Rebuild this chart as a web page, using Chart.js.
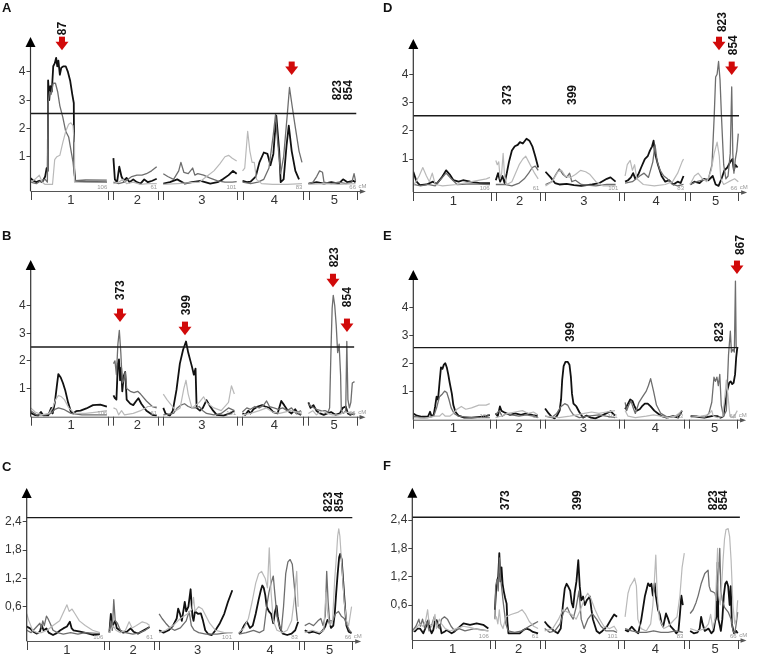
<!DOCTYPE html>
<html><head><meta charset="utf-8">
<script src="https://cdn.jsdelivr.net/npm/chart.js@4.4.0/dist/chart.umd.min.js"></script>
<style>
html,body{margin:0;padding:0;background:#fff;}
#wrap{position:relative;width:757px;height:657px;overflow:hidden;}
canvas{position:absolute;}
</style></head>
<body><div id="wrap"></div>
<script>
// ---------- shared categories ----------
const chrNames = ['1','2','3','4','5'];
const chrLengths = ['106','61','101','83','66'];
const chrStart = [0,113,181,289,379];
const chrEnd = [106,174,282,372,445];
const lodTicks = [1,2,3,4];
const lodTickLabels = ['1','2','3','4'];
const lodTicksCF = [0.6,1.2,1.8,2.4];
const lodTickLabelsCF = ['0,6','1,2','1,8','2,4'];

// ---------- panel A ----------
const A_black = [[0,0.24],[4,0.15],[8,0.1],[12,0.15],[16,0.1],[20,0.3],[22,0.6],[23.5,0.5],[24,3.7],[25.5,3.0],[27,3.5],[29,3.3],[31,4.2],[33,4.3],[35,4.5],[36.5,4.2],[38,4.4],[40,3.9],[42,4.15],[45,4.2],[48,4.2],[51,4.0],[54,3.7],[57,3.2],[59,2.9],[59.5,0.6],[61,0.15],[75,0.12],[104,0.1],
 [113,0.95],[115,0.2],[118,0.1],[121,0.65],[124,0.3],[127,0.15],[131,0.25],[135,0.1],[140,0.2],[145,0.1],[150,0.05],[155,0.2],[160,0.1],[166,0.15],[172,0.22],
 [181,0.05],[190,0.1],[200,0.2],[210,0.05],[220,0.1],[232,0.15],[245,0.05],[255,0.1],[262,0.2],[270,0.35],[276,0.5],[281,0.4],
 [289,0.15],[295,0.1],[300,0.12],[307,0.3],[312,0.8],[318,1.15],[323,1.1],[327,0.7],[331,1.1],[335,2.45],[339,1.2],[341,0.1],[345,0.2],[349,1.4],[352,2.1],[356,1.2],[361,0.5],[366,0.2],
 [379,0.05],[390,0.1],[400,0.05],[410,0.1],[420,0.05],[426,0.2],[432,0.1],[440,0.15],[443,0.1]];
const A_dark = [[0,0.1],[8,0.05],[14,0.15],[20,0.2],[23,0.1],[24,2.9],[26,3.3],[28,3.2],[31,3.6],[34,3.6],[37,3.3],[40,2.8],[44,2.4],[48,1.9],[52,1.7],[56,1.1],[58,0.8],[60,0.3],[61,0.15],[75,0.18],[104,0.17],
 [113,0.1],[120,0.05],[128,0.1],[133,0.2],[138,0.3],[145,0.35],[152,0.35],[158,0.4],[165,0.5],[172,0.65],
 [181,0.4],[187,0.3],[195,0.2],[202,0.5],[205,0.8],[209,0.45],[215,0.4],[221,0.6],[224,0.35],[228,0.4],[236,0.35],[244,0.25],[255,0.15],[265,0.1],[275,0.1],[281,0.12],
 [289,0.1],[300,0.05],[310,0.1],[318,0.2],[325,0.6],[331,1.8],[334,2.5],[337,1.5],[341,0.4],[345,1.0],[350,2.5],[353,3.45],[356,2.9],[360,2.2],[366,1.2],[370,0.8],
 [379,0.05],[385,0.1],[390,0.3],[394,0.5],[398,0.45],[400,0.1],[410,0.05],[420,0.1],[430,0.05],[438,0.1],[441,0.4],[443,0.15]];
const A_light = [[0,0.1],[6,0.2],[12,0.35],[16,0.1],[20,0.02],[30,0.02],[33,0.9],[36,1.0],[40,1.05],[44,1.5],[48,1.9],[52,2.15],[55,2.2],[58,2.1],[59.5,1.5],[60,0.1],[70,0.1],[104,0.1],
 [113,0.05],[120,0.1],[126,0.2],[131,0.05],[140,0.1],[150,0.02],[160,0.05],[172,0.05],
 [181,0.02],[200,0.05],[230,0.1],[240,0.3],[250,0.5],[258,0.75],[265,1.0],[270,1.05],[275,0.95],[281,0.85],
 [289,0.5],[292,0.6],[296,1.9],[299,1.2],[302,0.8],[305,0.8],[308,0.2],[315,0.05],[330,0.02],[350,0.02],[370,0.05],
 [379,0.02],[400,0.05],[420,0.02],[443,0.05]];
const A_arrows = [[42.9,4.77],[356,3.89]];
const A_labels = [['87',42.9,5.3],['823',417.7,3.0],['854',432.7,3.0]];

// ---------- panel B ----------
const B_black = [[0,0.12],[5,0.05],[10,0.02],[14,0.15],[17,0.03],[24,0.03],[28,0.3],[30,0.1],[33,0.5],[35.5,1.05],[37.7,1.52],[41,1.4],[44,1.2],[47,0.95],[51,0.5],[55,0.15],[58,0.1],[62,0.18],[68,0.2],[76,0.28],[85,0.4],[95,0.42],[104,0.35],
 [113,0.75],[115,0.65],[117,0.6],[119,1.9],[120.5,2.05],[122,1.3],[123.5,1.75],[125,0.9],[127,1.45],[129,1.6],[131,0.6],[136,0.45],[140,0.4],[144,0.55],[147,0.65],[151,0.45],[158,0.2],[166,0.05],[172,0.02],
 [181,0.3],[184,0.1],[190,0.02],[194,0.2],[199,0.95],[203.6,1.9],[208,2.4],[212,2.7],[215,2.3],[218,2.0],[220,1.8],[222.7,1.5],[225,1.72],[226.5,0.3],[231,0.2],[235,0.3],[240,0.58],[244,0.4],[249,0.2],[254,0.05],[263,0.02],[272,0.1],[278,0.2],
 [289,0.1],[293,0.05],[297,0.2],[300,0.1],[304,0.25],[310,0.35],[316,0.4],[320,0.35],[326,0.3],[331,0.15],[337,0.1],[342,0.55],[346,0.4],[351,0.2],[356,0.1],[361,0.25],[365,0.1],[369,0.05],
 [379,0.5],[382,0.3],[386,0.4],[390,0.2],[395,0.1],[400,0.05],[405,0.1],[410,0.15],[416,0.05],[422,0.1],[426,0.3],[430,0.35],[433,0.1],[436,0.05],[440,0.1],[442,0.05]];
const B_dark = [[0,0.2],[8,0.05],[20,0.05],[28,0.1],[33,0.25],[38,0.3],[45,0.25],[55,0.1],[70,0.05],[90,0.05],[104,0.05],
 [113,1.9],[115,2.0],[117,1.5],[119,2.6],[121,3.1],[123,2.3],[125,1.2],[127,1.3],[129,1.6],[131,1.0],[136,0.9],[141,0.85],[146,0.9],[150,0.8],[158,0.55],[166,0.35],[172,0.3],
 [181,0.05],[195,0.1],[200,0.3],[205,0.4],[210,0.45],[215,0.35],[220,0.3],[225,0.3],[230,0.35],[235,0.2],[240,0.1],[250,0.05],[260,0.1],[270,0.3],[278,0.2],
 [289,0.15],[295,0.3],[300,0.25],[306,0.35],[312,0.3],[318,0.4],[322,0.55],[326,0.35],[332,0.3],[338,0.25],[344,0.3],[350,0.2],[356,0.3],[362,0.1],[369,0.2],
 [379,0.45],[383,0.35],[390,0.25],[396,0.2],[402,0.2],[406,0.15],[408,0.3],[410,2.5],[411.5,3.9],[413,4.37],[415,4.0],[417,3.3],[419,2.3],[421,2.6],[423,1.5],[424,0.2],[427,0.1],[430,0.2],[431.5,2.7],[433,0.6],[435,0.3],[437,0.5],[439,1.2],[442,1.25]];
const B_light = [[0,0.3],[6,0.15],[15,0.05],[25,0.1],[30,0.3],[34,0.6],[38,0.75],[42,0.7],[46,0.6],[52,0.3],[60,0.1],[75,0.1],[90,0.15],[104,0.2],
 [113,0.3],[117,0.25],[120,0.05],[124,0.2],[128,0.05],[140,0.1],[150,0.2],[160,0.35],[172,0.35],
 [181,0.8],[186,0.6],[192,0.4],[198,0.2],[204,0.3],[209,1.0],[212,1.3],[215,0.8],[220,0.3],[230,0.5],[236,0.7],[240,0.5],[250,0.3],[260,0.2],[270,0.5],[274,1.1],[278,0.8],
 [289,0.05],[300,0.1],[312,0.2],[322,0.3],[330,0.15],[340,0.1],[355,0.2],[369,0.1],
 [379,0.1],[385,0.2],[390,0.05],[398,0.2],[405,0.1],[412,0.05],[420,0.05],[430,0.15],[440,0.1],[442,0.05]];
const B_arrows = [[121.9,3.40],[210.6,2.93],[412.6,4.66],[431.7,3.04]];
const B_labels = [['373',121.9,4.19],['399',212,3.65],['823',414,5.38],['854',431.7,3.94]];

// ---------- panel C ----------
const C_black = [[0,0.18],[4.6,0.14],[9,0.07],[14,0.03],[18,0.07],[20.5,0.21],[23,0.1],[27,0.14],[30,0.05],[36,0.0],[41,0.04],[46,0.1],[50,0.14],[55,0.18],[59,0.28],[61.5,0.14],[64,0.1],[73,0.07],[82,0.04],[91,0.0],[100,0.02],
 [113,0.05],[115,0.45],[117,0.15],[119,0.25],[121,0.3],[123,0.15],[127,0.1],[132,0.05],[137,0.07],[142,0.14],[146,0.07],[152,0.03],[160,0.1],[168,0.17],
 [181,0.1],[187,0.05],[194,0.1],[200,0.2],[205,0.35],[207,0.56],[209.5,0.45],[212,0.3],[216,0.7],[218,0.5],[221,0.6],[224,0.97],[226.5,0.4],[228,0.3],[230,0.5],[234,0.45],[238,0.46],[241,0.3],[244,0.1],[248,0.02],[253,0.0],[258,0.1],[264,0.25],[270,0.45],[275,0.7],[281,0.95],
 [290,0.03],[293,0.07],[297,0.2],[301,0.28],[305,0.15],[309,0.2],[313,0.45],[317,0.75],[320,0.95],[322,1.05],[324,1.0],[326,0.85],[328,0.6],[331,0.5],[334,0.45],[337,0.25],[339.5,0.5],[341.5,0.62],[343,0.4],[346,0.15],[350,0.03],[356,0.0],[362,0.03],[367,0.1],[371,0.28],
 [380,0.1],[386,0.05],[392,0.07],[400,0.03],[405,0.1],[408,0.18],[411,0.32],[413,0.3],[416,0.15],[419,0.2],[421,0.45],[423,0.9],[425,1.3],[427,1.65],[428.5,1.72],[430.5,1.6],[432.5,1.15],[435,0.6],[437,0.2],[440,0.07],[444,0.04]];
const C_dark = [[0,0.1],[6,0.05],[12,0.15],[18,0.25],[20,0.15],[22,0.3],[24,0.2],[27,0.4],[29,0.35],[32,0.25],[36,0.1],[42,0.05],[50,0.02],[60,0.05],[70,0.02],[80,0.05],[100,0.03],
 [113,0.1],[115,0.3],[117,0.1],[119,0.75],[121,0.3],[124,0.25],[128,0.1],[135,0.05],[145,0.02],[155,0.05],[162,0.1],[168,0.17],
 [181,0.45],[185,0.35],[190,0.25],[196,0.15],[202,0.1],[210,0.15],[218,0.3],[222,0.5],[225,0.2],[229,0.1],[235,0.05],[245,0.02],[260,0.02],[275,0.05],[281,0.05],
 [290,0.02],[300,0.05],[310,0.1],[318,0.05],[324,0.1],[328,0.6],[331,0.9],[334,1.1],[337,1.25],[339,0.9],[342,0.4],[345,0.2],[348,0.1],[351,0.6],[354,1.3],[357,1.55],[360,1.6],[363,1.5],[366,1.0],[368,0.6],[370,0.3],
 [380,0.2],[386,0.25],[392,0.2],[398,0.3],[402,0.35],[405,0.2],[408,0.4],[410,1.35],[412,0.7],[414,0.3],[418,0.3],[422,0.45],[426,0.5],[430,0.4],[434,0.35],[438,0.2],[441,0.1],[444,0.05]];
const C_light = [[0,0.45],[3,0.3],[8,0.1],[14,0.05],[20,0.05],[28,0.1],[36,0.2],[45,0.3],[55,0.64],[58,0.5],[62,0.55],[66,0.45],[72,0.3],[80,0.2],[90,0.1],[100,0.05],
 [113,0.05],[118,0.2],[122,0.1],[128,0.05],[135,0.1],[140,0.28],[144,0.15],[150,0.2],[158,0.28],[164,0.25],[168,0.2],
 [181,0.05],[190,0.1],[200,0.2],[210,0.35],[220,0.45],[226,0.55],[228,0.8],[230,0.5],[235,0.6],[240,0.55],[245,0.4],[250,0.25],[258,0.1],[270,0.05],[281,0.05],
 [290,0.05],[297,0.15],[303,0.35],[308,0.7],[313,1.1],[317,1.3],[321,1.35],[326,1.2],[329,1.0],[331.5,1.85],[334,0.9],[337,0.3],[342,0.1],[350,0.05],[356,0.1],[362,0.3],[366,0.8],[369,1.35],[371,0.6],
 [380,0.05],[390,0.1],[400,0.05],[406,0.1],[409,0.9],[411,0.5],[414,0.2],[418,0.3],[421,1.2],[423,1.6],[425,2.1],[426.5,2.25],[428,2.1],[431,1.4],[434,0.7],[437,0.3],[440,0.2],[442,0.4],[444,0.6]];
const C_arrows = [];
const C_labels = [['823',411.8,2.61],['854',426.8,2.61]];

// ---------- panel D ----------
const D_black = [[0,0.55],[4.5,0.2],[9,0.08],[18,0.1],[27,0.2],[32,0.12],[39,0.35],[45,0.6],[50,0.45],[55,0.25],[62,0.2],[68,0.25],[78,0.2],[91,0.15],[105,0.15],
 [113,0.25],[116,0.5],[119,0.2],[122,0.4],[125,0.15],[128,0.5],[131,0.9],[135,1.3],[139,1.45],[143,1.5],[146,1.6],[150,1.55],[155,1.72],[159,1.65],[163,1.45],[167,1.1],[171,0.7],
 [181,0.55],[188,0.35],[194,0.15],[200,0.1],[210,0.12],[220,0.08],[230,0.05],[245,0.1],[255,0.15],[265,0.3],[270,0.35],[277,0.2],
 [290,0.2],[294,0.25],[298,0.35],[301,0.5],[304,0.3],[308,0.45],[312,0.7],[317,1.0],[321,1.1],[324,1.3],[327,1.45],[329,1.65],[331,1.2],[335,0.8],[340,0.4],[345,0.2],[350,0.25],[356,0.1],[362,0.2],[366,0.15],[370,0.4],
 [379,0.1],[385,0.2],[392,0.15],[398,0.3],[404,0.25],[410,0.4],[414,0.1],[418,0.05],[422,0.3],[426,0.6],[430,0.7],[434,0.9],[437,1.0],[439,0.6],[441,0.8],[444,0.7]];
const D_dark = [[0,0.1],[10,0.05],[20,0.1],[30,0.05],[38,0.3],[45,0.5],[52,0.3],[60,0.1],[80,0.12],[105,0.1],
 [113,0.1],[125,0.1],[135,0.05],[145,0.15],[152,0.3],[158,0.5],[163,0.7],[167,0.75],[171,0.6],
 [181,0.1],[190,0.2],[195,0.45],[200,0.65],[205,0.45],[210,0.35],[214,0.5],[217,0.2],[222,0.25],[230,0.1],[250,0.05],[265,0.1],[277,0.1],
 [290,0.15],[300,0.2],[310,0.4],[316,0.5],[322,0.35],[328,0.9],[331,1.5],[334,0.9],[338,0.6],[343,0.4],[348,0.3],[355,0.1],[362,0.05],[370,0.1],
 [379,0.1],[388,0.2],[396,0.25],[404,0.3],[409,0.8],[412,2.5],[414,3.9],[416,4.0],[418,4.45],[420,3.8],[422,2.5],[425,0.8],[428,0.3],[431,0.4],[434,1.2],[436,3.55],[437.5,1.2],[439,0.5],[441,1.0],[443,1.3],[445,1.9]];
const D_light = [[0,0.05],[8,0.4],[13,0.7],[18,0.4],[22,0.2],[26,0.5],[30,0.1],[40,0.05],[60,0.1],[80,0.2],[100,0.3],[105,0.35],
 [113,0.95],[115,0.8],[117,0.9],[119,0.3],[121,0.5],[123,1.2],[125,0.4],[128,0.1],[135,0.2],[140,0.5],[145,0.8],[150,1.0],[154,1.1],[158,0.9],[162,0.7],[166,0.5],[171,0.3],
 [181,0.05],[190,0.2],[198,0.55],[203,0.6],[208,0.4],[215,0.35],[222,0.45],[229,0.6],[236,0.55],[242,0.45],[250,0.2],[260,0.05],[277,0.05],
 [290,0.4],[293,0.8],[297,0.95],[300,0.6],[303,0.8],[306,0.3],[315,0.1],[330,0.05],[345,0.1],[355,0.2],[362,0.5],[368,0.9],[370,1.0],
 [379,0.1],[385,0.4],[390,0.5],[396,0.3],[402,0.2],[408,0.6],[412,1.2],[416,1.6],[419,1.1],[421,0.3],[425,0.1],[432,0.2],[440,0.3],[445,0.2]];
const D_arrows = [[418.6,4.85],[436,3.97]];
const D_labels = [['823',422.7,5.49],['854',437.8,4.67],['373',128.3,2.91],['399',216.9,2.91]];

// ---------- panel E ----------
const E_black = [[0,0.2],[5,0.12],[12,0.08],[20,0.08],[23,0.26],[25,0.1],[28,0.15],[30,0.45],[32,0.8],[34,0.7],[36,1.3],[38,1.85],[40,1.8],[42,1.95],[44,2.0],[46,1.85],[48,1.6],[50,1.3],[53,0.9],[55,0.5],[58,0.25],[62,0.12],[70,0.05],[80,0.05],[92,0.08],[100,0.1],[105,0.15],
 [113,0.2],[116,0.1],[119,0.45],[121,0.3],[124,0.25],[128,0.2],[133,0.15],[140,0.2],[148,0.15],[155,0.2],[163,0.15],[171,0.1],
 [181,0.38],[186,0.2],[190,0.08],[194,0.02],[197,0.1],[201,0.3],[203,0.7],[204.5,1.4],[206.5,1.9],[209,2.05],[212,2.05],[214.5,1.95],[216.5,1.5],[218,0.9],[220,0.55],[224,0.45],[228,0.25],[233,0.05],[238,0.12],[244,0.05],[250,0.02],[257,0.1],[265,0.2],[271,0.28],[277,0.12],
 [291,0.35],[295,0.55],[298,0.7],[301,0.65],[304,0.45],[307,0.3],[311,0.35],[314,0.45],[318,0.55],[322,0.55],[326,0.45],[331,0.3],[336,0.2],[341,0.1],[348,0.05],[357,0.1],[364,0.05],[369,0.3],
 [381,0.1],[390,0.08],[400,0.05],[410,0.1],[418,0.1],[422,0.05],[426,0.1],[428,0.5],[431,1.0],[434,1.3],[436,1.35],[438,1.25],[440,1.3],[442,1.6],[443.5,2.2],[445,2.55]];
const E_dark = [[0,0.1],[10,0.05],[20,0.05],[28,0.1],[32,0.4],[36,0.8],[40,0.9],[43,1.0],[46,0.95],[49,0.7],[52,0.4],[56,0.2],[62,0.1],[80,0.05],[105,0.05],
 [113,0.15],[118,0.3],[122,0.1],[128,0.2],[135,0.15],[145,0.1],[155,0.15],[165,0.1],[171,0.05],
 [181,0.1],[190,0.05],[197,0.2],[203,0.45],[208,0.55],[212,0.5],[216,0.3],[220,0.15],[228,0.05],[240,0.1],[255,0.15],[265,0.1],[277,0.05],
 [291,0.6],[293,0.3],[296,0.5],[299,0.65],[302,0.4],[305,0.2],[310,0.6],[315,0.8],[320,1.0],[323,1.2],[326,1.45],[330,1.0],[334,0.5],[340,0.2],[350,0.05],[360,0.1],[369,0.2],
 [381,0.1],[390,0.1],[400,0.05],[406,0.2],[410,0.6],[413,1.5],[415,1.35],[417,1.5],[419,1.2],[421,1.6],[423,0.5],[426,0.1],[430,0.3],[433,2.3],[435.5,3.15],[437,2.4],[439,2.5],[441,2.4],[442.5,4.95],[443.5,2.6],[445,2.55]];
const E_light = [[0,0.05],[15,0.02],[30,0.1],[36,0.1],[40,0.2],[44,0.1],[50,0.1],[55,0.2],[60,0.35],[66,0.45],[72,0.35],[80,0.4],[90,0.5],[100,0.5],[105,0.55],
 [113,0.05],[120,0.1],[130,0.2],[140,0.25],[150,0.3],[158,0.2],[165,0.25],[171,0.15],
 [181,0.1],[200,0.05],[215,0.1],[225,0.15],[235,0.2],[245,0.25],[255,0.2],[265,0.25],[277,0.3],
 [291,0.3],[295,0.1],[305,0.05],[320,0.1],[330,0.15],[340,0.1],[350,0.05],[360,0.1],[369,0.3],
 [381,0.05],[395,0.1],[405,0.15],[410,0.3],[412,0.1],[418,0.05],[425,0.1],[428,0.8],[430,1.4],[432,0.9],[435,0.1],[440,0.05],[445,0.3]];
const E_arrows = [[444.6,5.2]];
const E_labels = [['867',448.8,5.88],['399',215,2.76],['823',420,2.76]];

// ---------- panel F ----------
const F_black = [[0,0.07],[3.6,0.04],[7,0.1],[10.5,0.1],[15,0.0],[19,0.15],[22,0.28],[24,0.1],[26.4,0.0],[28.7,0.07],[31,0.25],[33.3,0.28],[35.5,0.14],[37.8,0.18],[40,0.0],[44.6,0.04],[47,0.07],[53.8,0.0],[58,0.04],[65,0.14],[70,0.21],[79,0.18],[88,0.21],[97,0.18],[104,0.1],
 [113,0.5],[114.5,0.9],[116,1.1],[117.5,1.2],[119,1.7],[120.5,1.1],[122,1.4],[123.5,1.05],[125,0.9],[127,0.75],[129,0.63],[130,0.25],[131.5,0.0],[140,0.0],[147,0.0],[152,0.07],[156,0.1],[160,0.08],[165,0.03],[172,0.0],
 [181,0.25],[185,0.17],[190,0.1],[195,0.04],[199,0.0],[203,0.1],[206,0.6],[208.5,0.95],[211,1.05],[213,1.0],[216,0.9],[218,0.65],[220,0.55],[222,0.85],[224.5,1.1],[227,1.55],[229,1.0],[231,0.7],[233.5,0.78],[236,0.6],[238.5,0.7],[242.8,0.78],[245,0.5],[247,0.3],[252,0.05],[256,0.0],[260,0.05],[266,0.14],[272,0.3],[276,0.4],[280,0.35],
 [291,0.07],[295,0.04],[300,0.14],[305,0.05],[309,0.0],[313,0.28],[318,0.78],[322.5,1.06],[325,1.0],[327,1.05],[329,0.8],[331.5,1.06],[333,0.8],[336,0.5],[338.5,0.4],[341,0.2],[343,0.14],[347,0.42],[350,0.3],[353,0.15],[358,0.07],[361,0.0],[364,0.05],[366,0.4],[368,0.8],[370,0.6],
 [380,0.05],[385,0.0],[390,0.02],[393,0.1],[395,0.35],[397,0.2],[400,0.05],[405,0.1],[409,0.0],[412,0.05],[414,0.25],[416,0.35],[417.5,1.5],[418.5,0.3],[420,0.2],[422,0.05],[424,0.3],[426,0.8],[428,1.05],[430,1.1],[432,1.0],[434,0.6],[435.5,1.0],[437,0.2],[440,0.0],[443,0.05],[445,0.0]];
const F_dark = [[0,0.05],[5,0.15],[9,0.3],[11,0.15],[14,0.3],[17,0.1],[20,0.25],[23,0.05],[27,0.2],[30,0.35],[33,0.2],[37,0.1],[40,0.3],[44,0.35],[48,0.3],[53,0.15],[58,0.05],[64,0.1],[72,0.05],[85,0.1],[104,0.05],
 [113,0.3],[114,1.0],[116,1.15],[117.5,0.9],[119,1.6],[120.5,1.2],[122,1.0],[124,0.7],[126,0.45],[128,0.2],[131,0.05],[140,0.02],[150,0.05],[160,0.15],[166,0.2],[172,0.25],
 [181,0.1],[188,0.02],[195,0.05],[202,0.2],[207,0.45],[212,0.55],[216,0.4],[220,0.3],[224,0.55],[228,0.9],[231,0.3],[235,0.1],[240,0.3],[246,0.42],[252,0.3],[258,0.15],[265,0.05],[275,0.05],[280,0.02],
 [291,0.1],[300,0.05],[310,0.02],[320,0.02],[330,0.05],[340,0.02],[350,0.02],[360,0.05],[370,0.02],
 [380,0.42],[384,0.5],[388,0.65],[391,0.8],[395,1.05],[400,1.27],[404.5,1.34],[406,1.0],[408,0.9],[411,0.88],[414,0.85],[416,0.7],[417.5,1.0],[419,1.3],[420.5,1.8],[422,0.9],[424,0.7],[427,0.55],[432,0.45],[436,0.3],[438.5,0.05],[441,0.0],[443,0.2],[445,0.45]];
const F_light = [[0,0.03],[5,0.1],[10,0.2],[14,0.15],[18,0.25],[21,0.5],[23,0.2],[27,0.15],[31,0.4],[33,0.1],[37,0.3],[40,0.2],[45,0.1],[52,0.05],[60,0.1],[70,0.15],[80,0.12],[90,0.08],[104,0.05],
 [113,0.3],[115,0.35],[117,0.2],[119,0.5],[121,0.2],[124,0.1],[128,0.35],[135,0.4],[145,0.45],[150,0.5],[155,0.4],[160,0.25],[166,0.15],[172,0.1],
 [181,0.05],[192,0.1],[200,0.3],[206,0.5],[212,0.45],[218,0.4],[224,0.3],[230,0.5],[236,0.75],[240,0.85],[244,0.75],[250,0.5],[256,0.3],[262,0.15],[270,0.1],[276,0.15],[280,0.05],
 [291,0.35],[293,0.6],[295,0.85],[298,1.0],[300,1.05],[302,1.1],[304,1.17],[306.5,1.0],[308.5,0.3],[313,0.1],[320,0.05],[326,0.2],[329,0.6],[331,1.1],[333,1.66],[335,0.8],[338,0.3],[344,0.1],[350,0.15],[356,0.25],[362,0.35],[366,0.8],[369,1.4],[372,1.7],
 [380,0.1],[390,0.05],[400,0.1],[405,0.2],[408,0.4],[411,0.1],[414,0.3],[416,1.2],[417.5,1.8],[419,0.8],[421,0.6],[423,1.0],[425,1.55],[427,2.0],[429,2.2],[432,2.22],[434,2.05],[436,1.55],[438.5,0.6],[441,0.2],[443,0.3],[445,0.7]];
const F_arrows = [];
const F_labels = [['373',126.8,2.61],['399',225.2,2.61],['823',411.2,2.61],['854',424.9,2.61]];

// thresholds
const thresholds = {A:2.53, B:2.5, C:2.49, D:2.53, E:2.56, F:2.46};

// ---------- layout (pixels) ----------
const layoutCfg = {
 A:{ox:0,oy:0,w:378,h:220,left:30.5,pxu:0.7337,zeroY:185,ppu:28.3,axisY:191,arrowTop:37,letterY:12,letterX:2,thrEnd:444},
 D:{ox:380,oy:0,w:377,h:220,left:33.3,pxu:0.7303,zeroY:187.3,ppu:28.3,axisY:192,arrowTop:39,letterY:12,letterX:3,thrEnd:446},
 B:{ox:0,oy:220,w:378,h:220,left:30.7,pxu:0.7326,zeroY:196.2,ppu:27.7,axisY:196.7,arrowTop:40,letterY:20,letterX:2,thrEnd:441.5},
 E:{ox:380,oy:220,w:377,h:220,left:33.3,pxu:0.728,zeroY:199,ppu:27.9,axisY:199.7,arrowTop:50,letterY:20,letterX:3,thrEnd:446.5},
 C:{ox:0,oy:440,w:378,h:217,left:26.7,pxu:0.7317,zeroY:195,ppu:47.2,axisY:201,arrowTop:48,letterY:31,letterX:2,thrEnd:445},
 F:{ox:380,oy:440,w:377,h:217,left:32.3,pxu:0.7312,zeroY:193.3,ppu:47.2,axisY:200,arrowTop:47.7,letterY:30,letterX:3,thrEnd:448}
};
const X_MAX = 460;

function chrOf(x){ for(let i=4;i>=0;i--){ if(x>=chrStart[i]-4) return i; } return 0; }
function toData(pts){
  const out=[]; let prev=-1;
  for(const p of pts){
    const c=chrOf(p[0]);
    if(prev!==-1 && c!==prev) out.push({x:(p[0]+out[out.length-1].x)/2,y:null});
    out.push({x:p[0],y:p[1]}); prev=c;
  }
  return out;
}

function drawRedArrow(ctx,x,y){
  ctx.save(); ctx.fillStyle='#d10a0a';
  ctx.beginPath(); ctx.moveTo(x-6.5,y-8.5); ctx.lineTo(x+6.5,y-8.5); ctx.lineTo(x,y); ctx.closePath(); ctx.fill();
  ctx.fillRect(x-3,y-13.5,6,5.5);
  ctx.restore();
}

function makePanel(key, black, dark, light, ticks, tickLabels, arrows, labels){
  const g = layoutCfg[key];
  const cv = document.createElement('canvas');
  cv.width=g.w; cv.height=g.h;
  cv.style.left=g.ox+'px'; cv.style.top=g.oy+'px';
  cv.style.width=g.w+'px'; cv.style.height=g.h+'px';
  document.getElementById('wrap').appendChild(cv);
  const topY = 8;
  const yMax = (g.zeroY-topY)/g.ppu;
  const yMin = -(g.axisY-g.zeroY)/g.ppu;
  const rightPx = g.left + X_MAX*g.pxu;

  const deco = {
    id:'deco'+key,
    afterDatasetsDraw(chart){
      const ctx=chart.ctx, xs=chart.scales.x, ys=chart.scales.y;
      const X=v=>xs.getPixelForValue(v), Y=v=>ys.getPixelForValue(v);
      const ax=X(0), ay=Y(yMin);
      ctx.save();
      // threshold
      ctx.strokeStyle='#1a1a1a'; ctx.lineWidth=1.4;
      ctx.beginPath(); ctx.moveTo(ax,Y(thresholds[key])); ctx.lineTo(X(g.thrEnd),Y(thresholds[key])); ctx.stroke();
      // y axis + arrow
      ctx.strokeStyle='#333'; ctx.lineWidth=1.2;
      ctx.beginPath(); ctx.moveTo(ax,ay); ctx.lineTo(ax,g.arrowTop+8); ctx.stroke();
      ctx.fillStyle='#000';
      ctx.beginPath(); ctx.moveTo(ax-5,g.arrowTop+10); ctx.lineTo(ax+5,g.arrowTop+10); ctx.lineTo(ax,g.arrowTop); ctx.closePath(); ctx.fill();
      // x axis + arrow
      const xe = X(453);
      ctx.strokeStyle='#555'; ctx.lineWidth=1;
      ctx.beginPath(); ctx.moveTo(ax,ay+0.5); ctx.lineTo(xe,ay+0.5); ctx.stroke();
      ctx.fillStyle='#555';
      ctx.beginPath(); ctx.moveTo(xe+3,ay+0.5); ctx.lineTo(xe-3,ay-1.8); ctx.lineTo(xe-3,ay+2.8); ctx.closePath(); ctx.fill();
      // chromosome boundary ticks
      ctx.strokeStyle='#444'; ctx.lineWidth=1;
      for(let i=0;i<5;i++){
        for(const v of [chrStart[i],chrEnd[i]]){
          const px=Math.round(X(v))+0.5;
          ctx.beginPath(); ctx.moveTo(px,ay); ctx.lineTo(px,ay+9); ctx.stroke();
        }
      }
      // chromosome names
      ctx.fillStyle='#333'; ctx.font='13px "Liberation Sans", Arial, sans-serif';
      ctx.textAlign='center'; ctx.textBaseline='middle';
      for(let i=0;i<5;i++){ ctx.fillText(chrNames[i], X((chrStart[i]+chrEnd[i])/2+2), ay+9); }
      // lengths
      ctx.fillStyle='#999'; ctx.font='6px "Liberation Sans", Arial, sans-serif';
      ctx.textAlign='right'; ctx.textBaseline='alphabetic';
      for(let i=0;i<5;i++){ ctx.fillText(chrLengths[i], X(chrEnd[i])-1, ay-2); }
      ctx.textAlign='left'; ctx.fillText('cM', X(447), ay-3);
      // red arrows
      for(const a of arrows) drawRedArrow(ctx, X(a[0]), Y(a[1]));
      // rotated labels
      ctx.fillStyle='#111'; ctx.font='bold 12px "Liberation Sans", Arial, sans-serif';
      ctx.textAlign='left'; ctx.textBaseline='middle';
      for(const l of labels){
        ctx.save(); ctx.translate(X(l[1]), Y(l[2])); ctx.rotate(-Math.PI/2);
        ctx.fillText(l[0],0,0.5); ctx.restore();
      }
      // panel letter
      ctx.fillStyle='#111'; ctx.font='bold 13px "Liberation Sans", Arial, sans-serif';
      ctx.textAlign='left'; ctx.textBaseline='alphabetic';
      ctx.fillText(key, g.letterX, g.letterY);
      ctx.restore();
    }
  };

  new Chart(cv.getContext('2d'), {
    type:'line',
    data:{ datasets:[
      {data:toData(light), borderColor:'#b9b9b9', borderWidth:1.2},
      {data:toData(dark), borderColor:'#6e6e6e', borderWidth:1.3},
      {data:toData(black), borderColor:'#111', borderWidth:1.8}
    ]},
    options:{
      responsive:false, animation:false, devicePixelRatio:1,
      parsing:false, normalized:true, spanGaps:false,
      elements:{ point:{radius:0}, line:{tension:0, borderJoinStyle:'round'} },
      layout:{ padding:{ left:0, top:topY, right:g.w-rightPx, bottom:g.h-g.axisY } },
      plugins:{ legend:{display:false}, tooltip:{enabled:false} },
      scales:{
        x:{ type:'linear', min:0, max:X_MAX, display:false },
        y:{ type:'linear', min:yMin, max:yMax, position:'left',
            afterFit:(s)=>{ s.width=g.left; },
            afterBuildTicks:(s)=>{ s.ticks = ticks.map(v=>({value:v})); },
            border:{display:false},
            grid:{ drawOnChartArea:false, drawTicks:true, tickLength:4, color:'#444', lineWidth:1 },
            ticks:{ padding:1, color:'#333', font:{family:'"Liberation Sans", Arial, sans-serif', size:12},
                    callback:(v,i)=>tickLabels[i] } }
      }
    },
    plugins:[deco]
  });
}

makePanel('A', A_black, A_dark, A_light, lodTicks, lodTickLabels, A_arrows, A_labels);
makePanel('D', D_black, D_dark, D_light, lodTicks, lodTickLabels, D_arrows, D_labels);
makePanel('B', B_black, B_dark, B_light, lodTicks, lodTickLabels, B_arrows, B_labels);
makePanel('E', E_black, E_dark, E_light, lodTicks, lodTickLabels, E_arrows, E_labels);
makePanel('C', C_black, C_dark, C_light, lodTicksCF, lodTickLabelsCF, C_arrows, C_labels);
makePanel('F', F_black, F_dark, F_light, lodTicksCF, lodTickLabelsCF, F_arrows, F_labels);
</script>
</body></html>
